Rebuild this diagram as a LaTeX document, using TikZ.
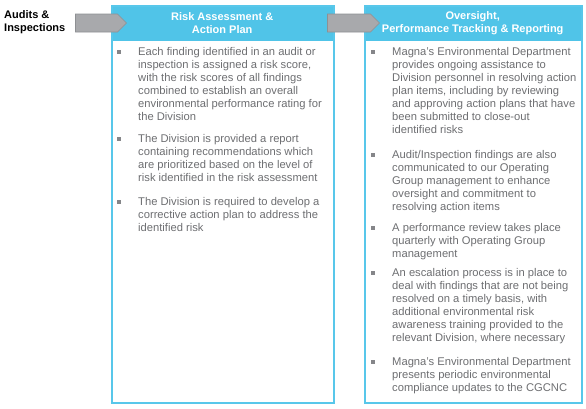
\documentclass[tikz,border=0pt]{standalone}
\usepackage{fontspec}
\setmainfont{Liberation Sans}
\usetikzlibrary{shapes.symbols}
\definecolor{cyanhead}{HTML}{50C4E8}
\definecolor{cyanline}{HTML}{58C7EA}
\definecolor{arrowfill}{HTML}{A8A9AC}
\definecolor{arrowline}{HTML}{8E9093}
\definecolor{bodytext}{HTML}{6D6E71}
\definecolor{bulletgray}{HTML}{858689}
\newcommand\myBody{\fontsize{11.2}{13.1}\selectfont}
\newcommand\myHead{\fontsize{11}{13}\selectfont\bfseries}
\begin{document}
\begin{tikzpicture}[x=1pt,y=-1pt,
  frame/.style={draw=cyanline, line width=1.8pt, inner sep=0pt, anchor=north west},
  headbox/.style={fill=cyanhead, text=white, font=\myHead, align=center, inner sep=0pt, anchor=north west},
  flowarrow/.style={signal, signal to=east, signal pointer angle=90, fill=arrowfill, draw=arrowline, line width=0.6pt, inner sep=0pt, minimum height=18pt},
  itemtext/.style={anchor=north west, align=left, inner sep=0pt, font=\myBody, text=bodytext},
  sq/.style={fill=bulletgray, minimum size=4pt, inner sep=0pt},
  sidelabel/.style={anchor=west, align=left, inner sep=0pt, font=\myHead, text=black}
]
\useasboundingbox (0,0) rectangle (586,408);

% column 1
\node[headbox, minimum width=222pt, minimum height=36pt] (h1) at (111,5) {Risk Assessment \&\\Action Plan};
\node[frame, minimum width=222pt, minimum height=397pt] (f1) at (111,5) {};
% column 2
\node[headbox, minimum width=217pt, minimum height=36pt] (h2) at (364,5) {Oversight,\\Performance Tracking \& Reporting};
\node[frame, minimum width=217pt, minimum height=397pt] (f2) at (364,5) {};

% side label
\node[sidelabel] (lab) at (4,22.5) {Audits \&\\Inspections};

% arrows
\node[flowarrow, minimum width=51pt] (a1) at (96.5,23) {};
\node[flowarrow, minimum width=52pt] (a2) at (349,23) {};

% column 1 items
\node[itemtext] (t1) at (138,46.8) {Each finding identified in an audit or\\inspection is assigned a risk score,\\with the risk scores of all findings\\combined to establish an overall\\environmental performance rating for\\the Division};
\node[itemtext] (t2) at (138,133.8) {The Division is provided a report\\containing recommendations which\\are prioritized based on the level of\\risk identified in the risk assessment};
\node[itemtext] (t3) at (138,196.8) {The Division is required to develop a\\corrective action plan to address the\\identified risk};
\foreach \t in {t1,t2,t3}{
  \node[sq] (b\t) at ([xshift=-19pt,yshift=-4.7pt]\t.north west) {};
}

% column 2 items
\node[itemtext] (t4) at (392,46.8) {Magna’s Environmental Department\\provides ongoing assistance to\\Division personnel in resolving action\\plan items, including by reviewing\\and approving action plans that have\\been submitted to close-out\\identified risks};
\node[itemtext] (t5) at (392,149.8) {Audit/Inspection findings are also\\communicated to our Operating\\Group management to enhance\\oversight and commitment to\\resolving action items};
\node[itemtext] (t6) at (392,222.8) {A performance review takes place\\quarterly with Operating Group\\management};
\node[itemtext] (t7) at (392,267.8) {An escalation process is in place to\\deal with findings that are not being\\resolved on a timely basis, with\\additional environmental risk\\awareness training provided to the\\relevant Division, where necessary};
\node[itemtext] (t8) at (392,356.8) {Magna’s Environmental Department\\presents periodic environmental\\compliance updates to the CGCNC};
\foreach \t in {t4,t5,t6,t7,t8}{
  \node[sq] (b\t) at ([xshift=-19.5pt,yshift=-4.7pt]\t.north west) {};
}
\end{tikzpicture}
\end{document}
